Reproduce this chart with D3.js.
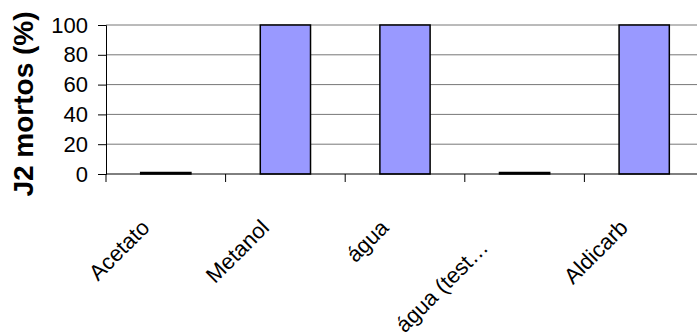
<!DOCTYPE html>
<html>
<head>
<meta charset="utf-8" />
<title>J2 mortos</title>
<script src="https://cdnjs.cloudflare.com/ajax/libs/d3/7.8.5/d3.min.js"></script>
<style>
  body { margin: 0; background: #fff; }
  svg { display: block; font-family: "Liberation Sans", Arial, sans-serif; }
</style>
</head>
<body>
<svg id="chart" width="697" height="333"></svg>
<script>
  // data
  const categories = ['Acetato', 'Metanol', 'água', 'água (test…', 'Aldicarb']
  const mortos = [1, 100, 100, 1, 100]
  const yTicks = [0, 20, 40, 60, 80, 100]

  const svg = d3.select('#chart')
  const x = d3.scaleBand().domain(categories).range([106, 704]).paddingInner(0.58).paddingOuter(0.29)
  const y = d3.scaleLinear().domain([0, 100]).range([174, 25])
  const step = x.step()

  // gridlines
  svg.append('g').selectAll('line').data(yTicks.filter(d => d > 0)).join('line')
    .attr('x1', 106).attr('x2', 704)
    .attr('y1', d => y(d)).attr('y2', d => y(d))
    .attr('stroke', '#777').attr('stroke-width', 1)

  // y axis
  const yAxis = d3.axisLeft(y).tickValues(yTicks).tickSize(8).tickPadding(10)
  const gy = svg.append('g').attr('transform', 'translate(106,0)').call(yAxis)
  gy.select('.domain').attr('stroke', '#000')
  gy.selectAll('.tick line').attr('stroke', '#000')
  gy.selectAll('text').attr('font-size', 22).attr('fill', '#000').attr('font-family', '"Liberation Sans", Arial, sans-serif')

  // bars
  svg.append('g').selectAll('rect').data(categories).join('rect')
    .attr('x', d => x(d))
    .attr('width', x.bandwidth())
    .attr('y', (d, i) => y(mortos[i]))
    .attr('height', (d, i) => y(0) - y(mortos[i]))
    .attr('fill', '#9999ff')
    .attr('stroke', '#000').attr('stroke-width', 1.5)

  // x axis with ticks between categories
  const bounds = d3.range(categories.length + 1).map(i => 106 + i * step)
  const gx = svg.append('g')
  gx.append('line').attr('x1', 106).attr('x2', 704).attr('y1', y(0)).attr('y2', y(0)).attr('stroke', '#000')
  gx.selectAll('line.tk').data(bounds).join('line').attr('class', 'tk')
    .attr('x1', d => d).attr('x2', d => d).attr('y1', y(0)).attr('y2', y(0) + 8)
    .attr('stroke', '#000')
  // truncated label sits a bit lower along its diagonal
  gx.selectAll('text').data(categories).join('text')
    .attr('transform', d => {
      const s = d.endsWith('…') ? 20 : 0
      return `translate(${x(d) + x.bandwidth() / 2 - 15 - s},${y(0) + 55 + s}) rotate(-45)`
    })
    .attr('text-anchor', 'end')
    .attr('font-size', 22)
    .text(d => d)

  // y title
  svg.append('text')
    .attr('transform', 'translate(33,104) rotate(-90)')
    .attr('text-anchor', 'middle')
    .attr('font-size', 28).attr('font-weight', 'bold')
    .text('J2 mortos (%)')
</script>
</body>
</html>
